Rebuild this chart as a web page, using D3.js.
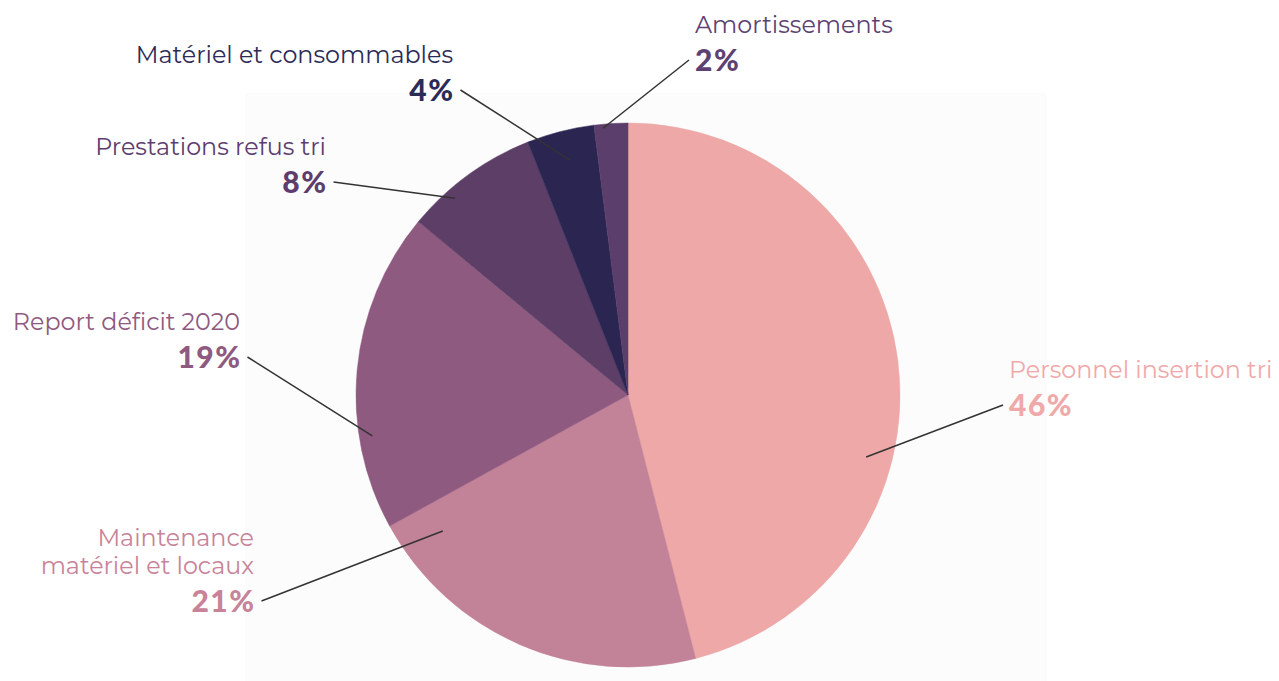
<!DOCTYPE html>
<html><head><meta charset="utf-8">
<script src="https://cdn.jsdelivr.net/npm/d3@7"></script>
<style>html,body{margin:0;padding:0;background:#fff;}svg{display:block;}</style>
</head><body>
<svg id="c" width="1279" height="681"></svg>
<script>
const categories = ["Personnel insertion tri", "Maintenance matériel et locaux", "Report déficit 2020", "Prestations refus tri", "Matériel et consommables", "Amortissements"];
const labelLines = [["Personnel insertion tri"], ["Maintenance", "matériel et locaux"], ["Report déficit 2020"], ["Prestations refus tri"], ["Matériel et consommables"], ["Amortissements"]];
const values = [46, 21, 19, 8, 4, 2];
const sliceColors = ["#eda8a7", "#c28298", "#8f5a80", "#5c3e67", "#2b2551", "#5b3e6b"];
const textColors = ["#f0a9a9", "#c88399", "#8f5a80", "#5c3d6e", "#2b2b57", "#5c4172"];

// layout of labels (positions only)
const layout = [
  {x: 1009, y: 378, anchor: "start", ang: 104.6, rf: 0.905},
  {x: 254, y: 546, anchor: "end", ang: 233.7, rf: 0.845},
  {x: 240, y: 330, anchor: "end", ang: 260.9, rf: 0.952},
  {x: 326, y: 155, anchor: "end", ang: 318.7, rf: 0.963},
  {x: 453, y: 63, anchor: "end", ang: 346.1, rf: 0.89},
  {x: 695, y: 33, anchor: "start", ang: 354.65, rf: 0.985}
];

const svg = d3.select("#c");
svg.append("rect").attr("x", 245).attr("y", 93).attr("width", 802).attr("height", 588).attr("fill", "#fcfcfc");

const cx = 628, cy = 395, R = 272;
const pie = d3.pie().sort(null).value(d => d)(values);
const arc = d3.arc().innerRadius(0).outerRadius(R);
const g = svg.append("g").attr("transform", `translate(${cx},${cy})`);
g.selectAll("path").data(pie).join("path")
  .attr("d", arc).attr("fill", (d, i) => sliceColors[i])
  .attr("stroke", (d, i) => sliceColors[i]).attr("stroke-width", 0.5);

const fontLabel = "Montserrat, 'Noto Sans', 'Open Sans', sans-serif";
const fontPct = "'Lato', 'Open Sans', sans-serif";

layout.forEach((L, i) => {
  const lines = labelLines[i];
  lines.forEach((t, k) => {
    svg.append("text").attr("x", L.x).attr("y", L.y + k * 28)
      .attr("text-anchor", L.anchor).attr("fill", textColors[i])
      .attr("font-family", fontLabel).attr("font-size", 23.8).attr("font-weight", 400)
      .text(t);
  });
  const py = L.y + (lines.length - 1) * 28 + 38;
  const pct = svg.append("text").attr("x", L.anchor === "end" ? L.x + 1.5 : L.x).attr("y", py)
    .attr("text-anchor", L.anchor).attr("fill", textColors[i])
    .attr("font-family", fontPct).attr("font-size", 30).attr("font-weight", 900)
    .attr("letter-spacing", 1.5)
    .text(values[i] + "%");
  const bb = pct.node().getBBox();
  const a = L.ang * Math.PI / 180;
  const sx = cx + R * L.rf * Math.sin(a), sy = cy - R * L.rf * Math.cos(a);
  const ex = L.anchor === "end" ? bb.x + bb.width + 6 : bb.x - 6;
  const ey = py - 11;
  svg.append("line").attr("x1", sx).attr("y1", sy).attr("x2", ex).attr("y2", ey)
    .attr("stroke", "#333").attr("stroke-width", 1.5);
});
</script>
</body></html>
